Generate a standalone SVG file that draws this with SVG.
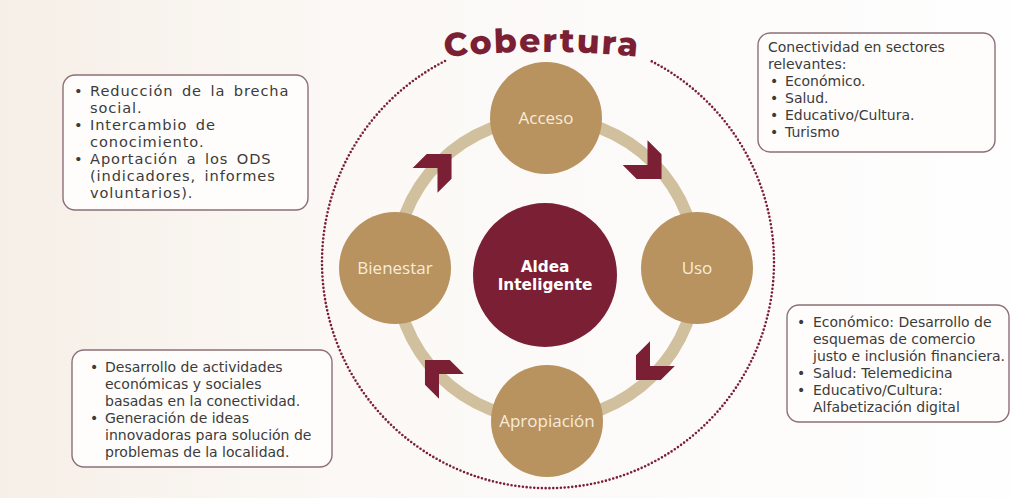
<svg xmlns="http://www.w3.org/2000/svg" width="1011" height="498" viewBox="0 0 1011 498">
<defs>
<linearGradient id="bg" x1="0" y1="0" x2="1" y2="0">
<stop offset="0" stop-color="#f6efe7"/>
<stop offset="0.33" stop-color="#fbf8f5"/>
<stop offset="1" stop-color="#fefefe"/>
</linearGradient>
<polygon id="chev" points="-10,-13 13,-13 13,10 0,23 0,0 -23,0"/>
<path id="arcTxt" d="M 342,73.5 A 940 940 0 0 1 742,73.5"/>
</defs>
<style>
.box{fill:#fefdfc;stroke:#8d6f76;stroke-width:1.4}
.bt{font-family:"DejaVu Sans","Open Sans",sans-serif;font-size:14px;fill:#3b3b3b}
.bt1{font-family:"DejaVu Sans","Open Sans",sans-serif;font-size:14.6px;letter-spacing:0.9px;word-spacing:3px;fill:#3b3b3b}
.node{fill:#b8925f}
.nt{font-family:"Open Sans","Noto Sans",sans-serif;font-size:17px;fill:#f6ecdc;text-anchor:middle}
.chev{fill:#7b1f35}
</style>
<rect width="1011" height="498" fill="url(#bg)"/>
<g id="cobertura">
<path d="M 445,61 A 226 226 0 1 0 651,61" fill="none" stroke="#7b1f35" stroke-width="2.6" stroke-linecap="round" stroke-dasharray="0 3.8"/>
<text font-family="Montserrat,'Open Sans','Noto Sans',sans-serif" font-weight="800" font-size="33" letter-spacing="2" fill="#7b1f35" text-anchor="middle"><textPath href="#arcTxt" startOffset="50%">Cobertura</textPath></text>
</g>
<g id="connectors">
<circle cx="546" cy="269" r="151" fill="none" stroke="#d1c09e" stroke-width="12"/>
<use href="#chev" class="chev" transform="translate(437.5,168) scale(1.08)"/>
<use href="#chev" class="chev" transform="translate(647.5,165) rotate(90) scale(1.08)"/>
<use href="#chev" class="chev" transform="translate(650,366) rotate(180) scale(1.08)"/>
<use href="#chev" class="chev" transform="translate(439,374) rotate(270) scale(1.08)"/>
</g>
<g id="acceso"><circle class="node" cx="546" cy="118" r="56"/><text class="nt" x="546" y="124">Acceso</text></g>
<g id="uso"><circle class="node" cx="697" cy="268" r="56"/><text class="nt" x="697" y="274">Uso</text></g>
<g id="bienestar"><circle class="node" cx="395" cy="268" r="56"/><text class="nt" x="395" y="274">Bienestar</text></g>
<g id="apropiacion"><circle class="node" cx="547" cy="421" r="56"/><text class="nt" x="547" y="427">Apropiación</text></g>
<g id="aldea"><circle cx="545" cy="275" r="72" fill="#7b1f35"/>
<text font-family="'DejaVu Sans','Open Sans',sans-serif" font-weight="700" font-size="15.3" fill="#ffffff" text-anchor="middle"><tspan x="545" y="272">Aldea</tspan><tspan x="545" y="290">Inteligente</tspan></text></g>
<g id="box-bienestar">
<rect class="box" x="63" y="75" width="245" height="135" rx="12"/>
<text class="bt1">
<tspan x="74" y="96">•</tspan><tspan x="90" y="96">Reducción de la brecha</tspan>
<tspan x="90" y="113">social.</tspan>
<tspan x="74" y="130">•</tspan><tspan x="90" y="130">Intercambio de</tspan>
<tspan x="90" y="147">conocimiento.</tspan>
<tspan x="74" y="164">•</tspan><tspan x="90" y="164">Aportación a los ODS</tspan>
<tspan x="90" y="181">(indicadores, informes</tspan>
<tspan x="90" y="198">voluntarios).</tspan>
</text>
</g>
<g id="box-acceso">
<rect class="box" x="758" y="33" width="237" height="119" rx="12"/>
<text class="bt">
<tspan x="768" y="52">Conectividad en sectores</tspan>
<tspan x="768" y="69">relevantes:</tspan>
<tspan x="770" y="86">•</tspan><tspan x="785" y="86">Económico.</tspan>
<tspan x="770" y="103">•</tspan><tspan x="785" y="103">Salud.</tspan>
<tspan x="770" y="120">•</tspan><tspan x="785" y="120">Educativo/Cultura.</tspan>
<tspan x="770" y="137">•</tspan><tspan x="785" y="137">Turismo</tspan>
</text>
</g>
<g id="box-uso">
<rect class="box" x="787" y="305" width="222" height="117" rx="12"/>
<text class="bt">
<tspan x="797" y="327">•</tspan><tspan x="813" y="327">Económico: Desarrollo de</tspan>
<tspan x="813" y="344">esquemas de comercio</tspan>
<tspan x="813" y="361">justo e inclusión financiera.</tspan>
<tspan x="797" y="378">•</tspan><tspan x="813" y="378">Salud: Telemedicina</tspan>
<tspan x="797" y="395">•</tspan><tspan x="813" y="395">Educativo/Cultura:</tspan>
<tspan x="813" y="412">Alfabetización digital</tspan>
</text>
</g>
<g id="box-apropiacion">
<rect class="box" x="72" y="350" width="260" height="117" rx="12"/>
<text class="bt">
<tspan x="90" y="372">•</tspan><tspan x="105" y="372">Desarrollo de actividades</tspan>
<tspan x="105" y="389">económicas y sociales</tspan>
<tspan x="105" y="406">basadas en la conectividad.</tspan>
<tspan x="90" y="423">•</tspan><tspan x="105" y="423">Generación de ideas</tspan>
<tspan x="105" y="440">innovadoras para solución de</tspan>
<tspan x="105" y="457">problemas de la localidad.</tspan>
</text>
</g>
</svg>
